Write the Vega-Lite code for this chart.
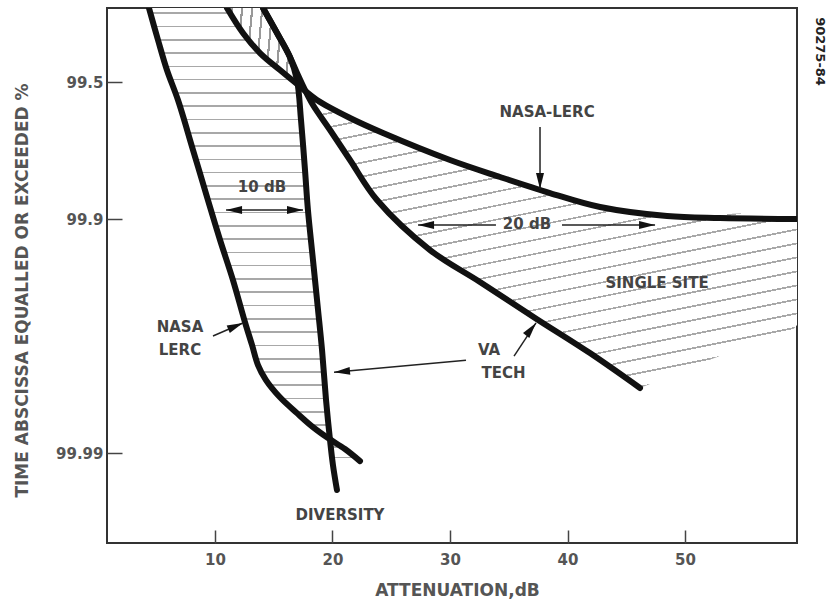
{
  "$schema": "https://vega.github.io/schema/vega-lite/v6.json",
  "width": 690,
  "height": 535,
  "autosize": {"type": "none"},
  "padding": {"left": 107, "top": 8, "right": 33, "bottom": 67},
  "background": "white",
  "config": {"view": {"stroke": "#333", "strokeWidth": 2}, "font": "DejaVu Sans"},
  "datasets": {
    "curves": [
      {"series": "NASA-LERC diversity", "dB": 4.38, "q": 1.3285},
      {"series": "NASA-LERC diversity", "dB": 5.15, "q": 0.8615},
      {"series": "NASA-LERC diversity", "dB": 5.91, "q": 0.5825},
      {"series": "NASA-LERC diversity", "dB": 6.85, "q": 0.3991},
      {"series": "NASA-LERC diversity", "dB": 8.13, "q": 0.2185},
      {"series": "NASA-LERC diversity", "dB": 9.40, "q": 0.1233},
      {"series": "NASA-LERC diversity", "dB": 10.43, "q": 0.0797},
      {"series": "NASA-LERC diversity", "dB": 11.53, "q": 0.0523},
      {"series": "NASA-LERC diversity", "dB": 12.55, "q": 0.0342},
      {"series": "NASA-LERC diversity", "dB": 13.15, "q": 0.0273},
      {"series": "NASA-LERC diversity", "dB": 13.66, "q": 0.0225},
      {"series": "NASA-LERC diversity", "dB": 14.34, "q": 0.0195},
      {"series": "NASA-LERC diversity", "dB": 15.53, "q": 0.0166},
      {"series": "NASA-LERC diversity", "dB": 16.98, "q": 0.01434},
      {"series": "NASA-LERC diversity", "dB": 18.34, "q": 0.01262},
      {"series": "NASA-LERC diversity", "dB": 19.62, "q": 0.01143},
      {"series": "NASA-LERC diversity", "dB": 21.06, "q": 0.01036},
      {"series": "NASA-LERC diversity", "dB": 22.34, "q": 0.00931},
      {"series": "VA TECH diversity", "dB": 14.09, "q": 1.3285},
      {"series": "VA TECH diversity", "dB": 15.28, "q": 0.9458},
      {"series": "VA TECH diversity", "dB": 16.38, "q": 0.689},
      {"series": "VA TECH diversity", "dB": 16.98, "q": 0.5128},
      {"series": "VA TECH diversity", "dB": 17.32, "q": 0.3124},
      {"series": "VA TECH diversity", "dB": 17.66, "q": 0.1732},
      {"series": "VA TECH diversity", "dB": 17.91, "q": 0.1104},
      {"series": "VA TECH diversity", "dB": 18.34, "q": 0.0644},
      {"series": "VA TECH diversity", "dB": 18.77, "q": 0.0386},
      {"series": "VA TECH diversity", "dB": 19.11, "q": 0.026},
      {"series": "VA TECH diversity", "dB": 19.45, "q": 0.0162},
      {"series": "VA TECH diversity", "dB": 19.79, "q": 0.01123},
      {"series": "VA TECH diversity", "dB": 20.04, "q": 0.00899},
      {"series": "VA TECH diversity", "dB": 20.38, "q": 0.00723},
      {"series": "VA TECH single site", "dB": 14.09, "q": 1.3285},
      {"series": "VA TECH single site", "dB": 15.28, "q": 0.9458},
      {"series": "VA TECH single site", "dB": 16.38, "q": 0.689},
      {"series": "VA TECH single site", "dB": 17.06, "q": 0.5464},
      {"series": "VA TECH single site", "dB": 17.66, "q": 0.4521},
      {"series": "VA TECH single site", "dB": 18.34, "q": 0.3753},
      {"series": "VA TECH single site", "dB": 19.79, "q": 0.277},
      {"series": "VA TECH single site", "dB": 21.49, "q": 0.1944},
      {"series": "VA TECH single site", "dB": 23.79, "q": 0.1233},
      {"series": "VA TECH single site", "dB": 28.30, "q": 0.0716},
      {"series": "VA TECH single site", "dB": 32.55, "q": 0.0513},
      {"series": "VA TECH single site", "dB": 37.40, "q": 0.0352},
      {"series": "VA TECH single site", "dB": 41.91, "q": 0.02524},
      {"series": "VA TECH single site", "dB": 46.17, "q": 0.0181},
      {"series": "NASA-LERC single site", "dB": 11.02, "q": 1.3285},
      {"series": "NASA-LERC single site", "dB": 12.38, "q": 0.9458},
      {"series": "NASA-LERC single site", "dB": 13.83, "q": 0.7259},
      {"series": "NASA-LERC single site", "dB": 15.53, "q": 0.5825},
      {"series": "NASA-LERC single site", "dB": 16.98, "q": 0.4875},
      {"series": "NASA-LERC single site", "dB": 18.68, "q": 0.3991},
      {"series": "NASA-LERC single site", "dB": 21.49, "q": 0.3201},
      {"series": "NASA-LERC single site", "dB": 24.30, "q": 0.2672},
      {"series": "NASA-LERC single site", "dB": 30.00, "q": 0.1944},
      {"series": "NASA-LERC single site", "dB": 34.26, "q": 0.1599},
      {"series": "NASA-LERC single site", "dB": 38.51, "q": 0.1334},
      {"series": "NASA-LERC single site", "dB": 42.77, "q": 0.1141},
      {"series": "NASA-LERC single site", "dB": 48.47, "q": 0.1033},
      {"series": "NASA-LERC single site", "dB": 52.98, "q": 0.1011},
      {"series": "NASA-LERC single site", "dB": 59.53, "q": 0.1}
    ],
    "regions": [
      {"region": "left", "q": 1.3285, "dB": 4.38, "dB2": 11.02},
      {"region": "left", "q": 0.9458, "dB": 4.98, "dB2": 12.38},
      {"region": "left", "q": 0.7259, "dB": 5.49, "dB2": 13.83},
      {"region": "left", "q": 0.5825, "dB": 5.91, "dB2": 15.53},
      {"region": "left", "q": 0.4814, "dB": 6.38, "dB2": 16.98},
      {"region": "left", "q": 0.3991, "dB": 6.85, "dB2": 17.15},
      {"region": "left", "q": 0.2185, "dB": 8.13, "dB2": 17.52},
      {"region": "left", "q": 0.1233, "dB": 9.40, "dB2": 17.85},
      {"region": "left", "q": 0.0797, "dB": 10.43, "dB2": 18.17},
      {"region": "left", "q": 0.0523, "dB": 11.53, "dB2": 18.51},
      {"region": "left", "q": 0.0342, "dB": 12.55, "dB2": 18.87},
      {"region": "left", "q": 0.0225, "dB": 13.66, "dB2": 19.21},
      {"region": "left", "q": 0.0166, "dB": 15.53, "dB2": 19.43},
      {"region": "left", "q": 0.01434, "dB": 16.98, "dB2": 19.56},
      {"region": "left", "q": 0.01262, "dB": 18.34, "dB2": 19.68},
      {"region": "left", "q": 0.01143, "dB": 19.62, "dB2": 19.77},
      {"region": "low", "q": 0.01123, "dB": 19.79, "dB2": 19.79},
      {"region": "low", "q": 0.01036, "dB": 19.94, "dB2": 21.06},
      {"region": "low", "q": 0.00931, "dB": 20.0, "dB2": 22.34},
      {"region": "top", "q": 1.3285, "dB": 11.02, "dB2": 14.09},
      {"region": "top", "q": 0.9458, "dB": 12.38, "dB2": 15.28},
      {"region": "top", "q": 0.689, "dB": 14.13, "dB2": 16.38},
      {"region": "top", "q": 0.5464, "dB": 15.96, "dB2": 17.06},
      {"region": "top", "q": 0.4754, "dB": 17.06, "dB2": 17.06},
      {"region": "right", "q": 0.4754, "dB": 17.06, "dB2": 17.06},
      {"region": "right", "q": 0.3991, "dB": 18.11, "dB2": 18.68},
      {"region": "right", "q": 0.3201, "dB": 19.09, "dB2": 21.49},
      {"region": "right", "q": 0.2672, "dB": 19.96, "dB2": 24.30},
      {"region": "right", "q": 0.1944, "dB": 21.49, "dB2": 30.00},
      {"region": "right", "q": 0.1599, "dB": 22.47, "dB2": 34.26},
      {"region": "right", "q": 0.1334, "dB": 23.39, "dB2": 38.51},
      {"region": "right", "q": 0.1141, "dB": 24.42, "dB2": 42.77},
      {"region": "right", "q": 0.1033, "dB": 25.24, "dB2": 48.47},
      {"region": "right", "q": 0.1, "dB": 25.49, "dB2": 59.53},
      {"region": "right", "q": 0.0716, "dB": 28.30, "dB2": 59.53},
      {"region": "right", "q": 0.0497, "dB": 32.94, "dB2": 59.53},
      {"region": "right", "q": 0.0332, "dB": 38.17, "dB2": 59.53},
      {"region": "right", "q": 0.0248, "dB": 42.17, "dB2": 53.15},
      {"region": "right", "q": 0.0181, "dB": 46.17, "dB2": 46.17}
    ],
    "arrows": [
      {"id": "10dB-left", "dB": 14.0, "q": 0.1104, "dB2": 10.94, "q2": 0.1104},
      {"id": "10dB-right", "dB": 14.0, "q": 0.1104, "dB2": 17.49, "q2": 0.1104},
      {"id": "20dB-left", "dB": 33.91, "q": 0.0937, "dB2": 27.28, "q2": 0.0937},
      {"id": "20dB-right", "dB": 39.53, "q": 0.0937, "dB2": 47.45, "q2": 0.0937},
      {"id": "NASA-LERC single", "dB": 37.66, "q": 0.2871, "dB2": 37.66, "q2": 0.1395},
      {"id": "NASA LERC diversity", "dB": 9.83, "q": 0.0298, "dB2": 12.38, "q2": 0.0339},
      {"id": "VA TECH single", "dB": 35.45, "q": 0.0245, "dB2": 37.32, "q2": 0.0339},
      {"id": "VA TECH diversity", "dB": 31.36, "q": 0.02358, "dB2": 20.13, "q2": 0.021}
    ],
    "labels": [
      {"label": "10 dB", "dB": 14.0, "q": 0.1427},
      {"label": "20 dB", "dB": 36.55, "q": 0.0947},
      {"label": "NASA-LERC", "dB": 38.26, "q": 0.3444},
      {"label": "SINGLE SITE", "dB": 47.62, "q": 0.0507},
      {"label": "NASA", "dB": 7.02, "q": 0.0325},
      {"label": "LERC", "dB": 7.02, "q": 0.026},
      {"label": "VA", "dB": 33.32, "q": 0.026},
      {"label": "TECH", "dB": 34.55, "q": 0.0208},
      {"label": "DIVERSITY", "dB": 20.64, "q": 0.00584}
    ],
    "figid": [{"label": "90275-84", "dB": 61.5, "q": 0.74}]
  },
  "encoding": {
    "x": {
      "field": "dB", "type": "quantitative",
      "scale": {"type": "linear", "domain": [0.81, 59.53], "nice": false, "zero": false},
      "axis": {
        "values": [10, 20, 30, 40, 50], "title": "ATTENUATION,dB", "grid": false, "domain": false,
        "tickSize": -13, "tickWidth": 1.5, "tickColor": "#444",
        "labelPadding": 22, "labelFontSize": 15, "labelFontWeight": "bold", "labelColor": "#555", "labelFont": "DejaVu Sans",
        "titleFont": "DejaVu Sans", "titleFontSize": 17, "titleFontWeight": "bold", "titleColor": "#555",
        "titleX": 350, "titleY": 47, "titleAlign": "center", "titleBaseline": "middle"
      }
    },
    "y": {
      "field": "q", "type": "quantitative",
      "scale": {"type": "pow", "exponent": -0.09, "domain": [0.00462, 1.3285], "nice": false, "zero": false},
      "axis": {
        "values": [0.5, 0.1, 0.01],
        "labelExpr": "datum.value == 0.5 ? '99.5' : (datum.value == 0.1 ? '99.9' : '99.99')",
        "title": "TIME ABSCISSA EQUALLED OR EXCEEDED %", "grid": false, "domain": false,
        "tickSize": -15, "tickWidth": 1.5, "tickColor": "#444",
        "labelPadding": 19, "labelFontSize": 15, "labelFontWeight": "bold", "labelColor": "#555", "labelFont": "DejaVu Sans",
        "titleFont": "DejaVu Sans", "titleFontSize": 17, "titleFontWeight": "bold", "titleColor": "#555",
        "titleX": -85, "titleY": 282, "titleAngle": -90, "titleAlign": "center", "titleBaseline": "middle"
      }
    }
  },
  "layer": [
    {
      "data": {"name": "regions"},
      "transform": [{"filter": {"field": "region", "equal": "left"}}],
      "mark": {"type": "area", "orient": "horizontal", "clip": true, "interpolate": "catmull-rom", "opacity": 1,
        "fill": {"gradient": "linear", "x1": 0, "y1": 0, "x2": 0, "y2": 1, "stops": [
          {"offset": 0, "color": "#fff"},
          {"offset": 0.0101, "color": "#fff"}, {"offset": 0.0101, "color": "#a8a8a8"}, {"offset": 0.0139, "color": "#a8a8a8"}, {"offset": 0.0139, "color": "#fff"},
          {"offset": 0.0410, "color": "#fff"}, {"offset": 0.0410, "color": "#a8a8a8"}, {"offset": 0.0448, "color": "#a8a8a8"}, {"offset": 0.0448, "color": "#fff"},
          {"offset": 0.0719, "color": "#fff"}, {"offset": 0.0719, "color": "#a8a8a8"}, {"offset": 0.0757, "color": "#a8a8a8"}, {"offset": 0.0757, "color": "#fff"},
          {"offset": 0.1028, "color": "#fff"}, {"offset": 0.1028, "color": "#a8a8a8"}, {"offset": 0.1066, "color": "#a8a8a8"}, {"offset": 0.1066, "color": "#fff"},
          {"offset": 0.1337, "color": "#fff"}, {"offset": 0.1337, "color": "#a8a8a8"}, {"offset": 0.1375, "color": "#a8a8a8"}, {"offset": 0.1375, "color": "#fff"},
          {"offset": 0.1646, "color": "#fff"}, {"offset": 0.1646, "color": "#a8a8a8"}, {"offset": 0.1684, "color": "#a8a8a8"}, {"offset": 0.1684, "color": "#fff"},
          {"offset": 0.1955, "color": "#fff"}, {"offset": 0.1955, "color": "#a8a8a8"}, {"offset": 0.1993, "color": "#a8a8a8"}, {"offset": 0.1993, "color": "#fff"},
          {"offset": 0.2264, "color": "#fff"}, {"offset": 0.2264, "color": "#a8a8a8"}, {"offset": 0.2302, "color": "#a8a8a8"}, {"offset": 0.2302, "color": "#fff"},
          {"offset": 0.2573, "color": "#fff"}, {"offset": 0.2573, "color": "#a8a8a8"}, {"offset": 0.2611, "color": "#a8a8a8"}, {"offset": 0.2611, "color": "#fff"},
          {"offset": 0.2882, "color": "#fff"}, {"offset": 0.2882, "color": "#a8a8a8"}, {"offset": 0.2920, "color": "#a8a8a8"}, {"offset": 0.2920, "color": "#fff"},
          {"offset": 0.3191, "color": "#fff"}, {"offset": 0.3191, "color": "#a8a8a8"}, {"offset": 0.3229, "color": "#a8a8a8"}, {"offset": 0.3229, "color": "#fff"},
          {"offset": 0.3500, "color": "#fff"}, {"offset": 0.3500, "color": "#a8a8a8"}, {"offset": 0.3538, "color": "#a8a8a8"}, {"offset": 0.3538, "color": "#fff"},
          {"offset": 0.3809, "color": "#fff"}, {"offset": 0.3809, "color": "#a8a8a8"}, {"offset": 0.3847, "color": "#a8a8a8"}, {"offset": 0.3847, "color": "#fff"},
          {"offset": 0.4118, "color": "#fff"}, {"offset": 0.4118, "color": "#a8a8a8"}, {"offset": 0.4156, "color": "#a8a8a8"}, {"offset": 0.4156, "color": "#fff"},
          {"offset": 0.4427, "color": "#fff"}, {"offset": 0.4427, "color": "#a8a8a8"}, {"offset": 0.4465, "color": "#a8a8a8"}, {"offset": 0.4465, "color": "#fff"},
          {"offset": 0.4736, "color": "#fff"}, {"offset": 0.4736, "color": "#a8a8a8"}, {"offset": 0.4774, "color": "#a8a8a8"}, {"offset": 0.4774, "color": "#fff"},
          {"offset": 0.5045, "color": "#fff"}, {"offset": 0.5045, "color": "#a8a8a8"}, {"offset": 0.5083, "color": "#a8a8a8"}, {"offset": 0.5083, "color": "#fff"},
          {"offset": 0.5354, "color": "#fff"}, {"offset": 0.5354, "color": "#a8a8a8"}, {"offset": 0.5392, "color": "#a8a8a8"}, {"offset": 0.5392, "color": "#fff"},
          {"offset": 0.5663, "color": "#fff"}, {"offset": 0.5663, "color": "#a8a8a8"}, {"offset": 0.5701, "color": "#a8a8a8"}, {"offset": 0.5701, "color": "#fff"},
          {"offset": 0.5972, "color": "#fff"}, {"offset": 0.5972, "color": "#a8a8a8"}, {"offset": 0.6010, "color": "#a8a8a8"}, {"offset": 0.6010, "color": "#fff"},
          {"offset": 0.6281, "color": "#fff"}, {"offset": 0.6281, "color": "#a8a8a8"}, {"offset": 0.6319, "color": "#a8a8a8"}, {"offset": 0.6319, "color": "#fff"},
          {"offset": 0.6590, "color": "#fff"}, {"offset": 0.6590, "color": "#a8a8a8"}, {"offset": 0.6628, "color": "#a8a8a8"}, {"offset": 0.6628, "color": "#fff"},
          {"offset": 0.6899, "color": "#fff"}, {"offset": 0.6899, "color": "#a8a8a8"}, {"offset": 0.6937, "color": "#a8a8a8"}, {"offset": 0.6937, "color": "#fff"},
          {"offset": 0.7208, "color": "#fff"}, {"offset": 0.7208, "color": "#a8a8a8"}, {"offset": 0.7246, "color": "#a8a8a8"}, {"offset": 0.7246, "color": "#fff"},
          {"offset": 0.7517, "color": "#fff"}, {"offset": 0.7517, "color": "#a8a8a8"}, {"offset": 0.7555, "color": "#a8a8a8"}, {"offset": 0.7555, "color": "#fff"},
          {"offset": 0.7826, "color": "#fff"}, {"offset": 0.7826, "color": "#a8a8a8"}, {"offset": 0.7864, "color": "#a8a8a8"}, {"offset": 0.7864, "color": "#fff"},
          {"offset": 0.8135, "color": "#fff"}, {"offset": 0.8135, "color": "#a8a8a8"}, {"offset": 0.8173, "color": "#a8a8a8"}, {"offset": 0.8173, "color": "#fff"},
          {"offset": 0.8444, "color": "#fff"}, {"offset": 0.8444, "color": "#a8a8a8"}, {"offset": 0.8482, "color": "#a8a8a8"}, {"offset": 0.8482, "color": "#fff"},
          {"offset": 0.8753, "color": "#fff"}, {"offset": 0.8753, "color": "#a8a8a8"}, {"offset": 0.8791, "color": "#a8a8a8"}, {"offset": 0.8791, "color": "#fff"},
          {"offset": 0.9062, "color": "#fff"}, {"offset": 0.9062, "color": "#a8a8a8"}, {"offset": 0.9100, "color": "#a8a8a8"}, {"offset": 0.9100, "color": "#fff"},
          {"offset": 0.9371, "color": "#fff"}, {"offset": 0.9371, "color": "#a8a8a8"}, {"offset": 0.9409, "color": "#a8a8a8"}, {"offset": 0.9409, "color": "#fff"},
          {"offset": 0.9680, "color": "#fff"}, {"offset": 0.9680, "color": "#a8a8a8"}, {"offset": 0.9718, "color": "#a8a8a8"}, {"offset": 0.9718, "color": "#fff"},
          {"offset": 1, "color": "#fff"}
        ]}},
      "encoding": {"x2": {"field": "dB2"}, "order": {"value": null}}
    },
    {
      "data": {"name": "regions"},
      "transform": [{"filter": {"field": "region", "equal": "right"}}],
      "mark": {"type": "area", "orient": "horizontal", "clip": true, "interpolate": "catmull-rom", "opacity": 1,
        "fill": {"gradient": "linear", "x1": 0, "y1": 0, "x2": 0.45, "y2": 1.35, "stops": [
          {"offset": 0, "color": "#fff"},
          {"offset": 0.0101, "color": "#fff"}, {"offset": 0.0101, "color": "#a8a8a8"}, {"offset": 0.0139, "color": "#a8a8a8"}, {"offset": 0.0139, "color": "#fff"},
          {"offset": 0.0410, "color": "#fff"}, {"offset": 0.0410, "color": "#a8a8a8"}, {"offset": 0.0448, "color": "#a8a8a8"}, {"offset": 0.0448, "color": "#fff"},
          {"offset": 0.0719, "color": "#fff"}, {"offset": 0.0719, "color": "#a8a8a8"}, {"offset": 0.0757, "color": "#a8a8a8"}, {"offset": 0.0757, "color": "#fff"},
          {"offset": 0.1028, "color": "#fff"}, {"offset": 0.1028, "color": "#a8a8a8"}, {"offset": 0.1066, "color": "#a8a8a8"}, {"offset": 0.1066, "color": "#fff"},
          {"offset": 0.1337, "color": "#fff"}, {"offset": 0.1337, "color": "#a8a8a8"}, {"offset": 0.1375, "color": "#a8a8a8"}, {"offset": 0.1375, "color": "#fff"},
          {"offset": 0.1646, "color": "#fff"}, {"offset": 0.1646, "color": "#a8a8a8"}, {"offset": 0.1684, "color": "#a8a8a8"}, {"offset": 0.1684, "color": "#fff"},
          {"offset": 0.1955, "color": "#fff"}, {"offset": 0.1955, "color": "#a8a8a8"}, {"offset": 0.1993, "color": "#a8a8a8"}, {"offset": 0.1993, "color": "#fff"},
          {"offset": 0.2264, "color": "#fff"}, {"offset": 0.2264, "color": "#a8a8a8"}, {"offset": 0.2302, "color": "#a8a8a8"}, {"offset": 0.2302, "color": "#fff"},
          {"offset": 0.2573, "color": "#fff"}, {"offset": 0.2573, "color": "#a8a8a8"}, {"offset": 0.2611, "color": "#a8a8a8"}, {"offset": 0.2611, "color": "#fff"},
          {"offset": 0.2882, "color": "#fff"}, {"offset": 0.2882, "color": "#a8a8a8"}, {"offset": 0.2920, "color": "#a8a8a8"}, {"offset": 0.2920, "color": "#fff"},
          {"offset": 0.3191, "color": "#fff"}, {"offset": 0.3191, "color": "#a8a8a8"}, {"offset": 0.3229, "color": "#a8a8a8"}, {"offset": 0.3229, "color": "#fff"},
          {"offset": 0.3500, "color": "#fff"}, {"offset": 0.3500, "color": "#a8a8a8"}, {"offset": 0.3538, "color": "#a8a8a8"}, {"offset": 0.3538, "color": "#fff"},
          {"offset": 0.3809, "color": "#fff"}, {"offset": 0.3809, "color": "#a8a8a8"}, {"offset": 0.3847, "color": "#a8a8a8"}, {"offset": 0.3847, "color": "#fff"},
          {"offset": 0.4118, "color": "#fff"}, {"offset": 0.4118, "color": "#a8a8a8"}, {"offset": 0.4156, "color": "#a8a8a8"}, {"offset": 0.4156, "color": "#fff"},
          {"offset": 0.4427, "color": "#fff"}, {"offset": 0.4427, "color": "#a8a8a8"}, {"offset": 0.4465, "color": "#a8a8a8"}, {"offset": 0.4465, "color": "#fff"},
          {"offset": 0.4736, "color": "#fff"}, {"offset": 0.4736, "color": "#a8a8a8"}, {"offset": 0.4774, "color": "#a8a8a8"}, {"offset": 0.4774, "color": "#fff"},
          {"offset": 0.5045, "color": "#fff"}, {"offset": 0.5045, "color": "#a8a8a8"}, {"offset": 0.5083, "color": "#a8a8a8"}, {"offset": 0.5083, "color": "#fff"},
          {"offset": 0.5354, "color": "#fff"}, {"offset": 0.5354, "color": "#a8a8a8"}, {"offset": 0.5392, "color": "#a8a8a8"}, {"offset": 0.5392, "color": "#fff"},
          {"offset": 0.5663, "color": "#fff"}, {"offset": 0.5663, "color": "#a8a8a8"}, {"offset": 0.5701, "color": "#a8a8a8"}, {"offset": 0.5701, "color": "#fff"},
          {"offset": 0.5972, "color": "#fff"}, {"offset": 0.5972, "color": "#a8a8a8"}, {"offset": 0.6010, "color": "#a8a8a8"}, {"offset": 0.6010, "color": "#fff"},
          {"offset": 0.6281, "color": "#fff"}, {"offset": 0.6281, "color": "#a8a8a8"}, {"offset": 0.6319, "color": "#a8a8a8"}, {"offset": 0.6319, "color": "#fff"},
          {"offset": 0.6590, "color": "#fff"}, {"offset": 0.6590, "color": "#a8a8a8"}, {"offset": 0.6628, "color": "#a8a8a8"}, {"offset": 0.6628, "color": "#fff"},
          {"offset": 0.6899, "color": "#fff"}, {"offset": 0.6899, "color": "#a8a8a8"}, {"offset": 0.6937, "color": "#a8a8a8"}, {"offset": 0.6937, "color": "#fff"},
          {"offset": 0.7208, "color": "#fff"}, {"offset": 0.7208, "color": "#a8a8a8"}, {"offset": 0.7246, "color": "#a8a8a8"}, {"offset": 0.7246, "color": "#fff"},
          {"offset": 0.7517, "color": "#fff"}, {"offset": 0.7517, "color": "#a8a8a8"}, {"offset": 0.7555, "color": "#a8a8a8"}, {"offset": 0.7555, "color": "#fff"},
          {"offset": 0.7826, "color": "#fff"}, {"offset": 0.7826, "color": "#a8a8a8"}, {"offset": 0.7864, "color": "#a8a8a8"}, {"offset": 0.7864, "color": "#fff"},
          {"offset": 0.8135, "color": "#fff"}, {"offset": 0.8135, "color": "#a8a8a8"}, {"offset": 0.8173, "color": "#a8a8a8"}, {"offset": 0.8173, "color": "#fff"},
          {"offset": 0.8444, "color": "#fff"}, {"offset": 0.8444, "color": "#a8a8a8"}, {"offset": 0.8482, "color": "#a8a8a8"}, {"offset": 0.8482, "color": "#fff"},
          {"offset": 0.8753, "color": "#fff"}, {"offset": 0.8753, "color": "#a8a8a8"}, {"offset": 0.8791, "color": "#a8a8a8"}, {"offset": 0.8791, "color": "#fff"},
          {"offset": 0.9062, "color": "#fff"}, {"offset": 0.9062, "color": "#a8a8a8"}, {"offset": 0.9100, "color": "#a8a8a8"}, {"offset": 0.9100, "color": "#fff"},
          {"offset": 0.9371, "color": "#fff"}, {"offset": 0.9371, "color": "#a8a8a8"}, {"offset": 0.9409, "color": "#a8a8a8"}, {"offset": 0.9409, "color": "#fff"},
          {"offset": 0.9680, "color": "#fff"}, {"offset": 0.9680, "color": "#a8a8a8"}, {"offset": 0.9718, "color": "#a8a8a8"}, {"offset": 0.9718, "color": "#fff"},
          {"offset": 1, "color": "#fff"}
        ]}},
      "encoding": {"x2": {"field": "dB2"}, "order": {"value": null}}
    },
    {
      "data": {"name": "regions"},
      "transform": [{"filter": {"field": "region", "equal": "top"}}],
      "mark": {"type": "area", "orient": "horizontal", "clip": true, "interpolate": "catmull-rom", "opacity": 1,
        "fill": {"gradient": "linear", "x1": 0, "y1": 0, "x2": 1, "y2": 0.1, "stops": [
          {"offset": 0, "color": "#fff"},
          {"offset": 0.055, "color": "#fff"}, {"offset": 0.055, "color": "#999"}, {"offset": 0.085, "color": "#999"}, {"offset": 0.085, "color": "#fff"},
          {"offset": 0.195, "color": "#fff"}, {"offset": 0.195, "color": "#999"}, {"offset": 0.225, "color": "#999"}, {"offset": 0.225, "color": "#fff"},
          {"offset": 0.335, "color": "#fff"}, {"offset": 0.335, "color": "#999"}, {"offset": 0.365, "color": "#999"}, {"offset": 0.365, "color": "#fff"},
          {"offset": 0.475, "color": "#fff"}, {"offset": 0.475, "color": "#999"}, {"offset": 0.505, "color": "#999"}, {"offset": 0.505, "color": "#fff"},
          {"offset": 0.615, "color": "#fff"}, {"offset": 0.615, "color": "#999"}, {"offset": 0.645, "color": "#999"}, {"offset": 0.645, "color": "#fff"},
          {"offset": 0.755, "color": "#fff"}, {"offset": 0.755, "color": "#999"}, {"offset": 0.785, "color": "#999"}, {"offset": 0.785, "color": "#fff"},
          {"offset": 0.895, "color": "#fff"}, {"offset": 0.895, "color": "#999"}, {"offset": 0.925, "color": "#999"}, {"offset": 0.925, "color": "#fff"},
          {"offset": 1, "color": "#fff"}
        ]}},
      "encoding": {"x2": {"field": "dB2"}, "order": {"value": null}}
    },
    {
      "data": {"name": "regions"},
      "transform": [{"filter": {"field": "region", "equal": "low"}}],
      "mark": {"type": "area", "orient": "horizontal", "clip": true, "opacity": 1,
        "fill": {"gradient": "linear", "x1": 0, "y1": 0, "x2": 0, "y2": 1, "stops": [
          {"offset": 0, "color": "#fff"},
          {"offset": 0.30, "color": "#fff"}, {"offset": 0.30, "color": "#a8a8a8"}, {"offset": 0.37, "color": "#a8a8a8"}, {"offset": 0.37, "color": "#fff"},
          {"offset": 0.80, "color": "#fff"}, {"offset": 0.80, "color": "#a8a8a8"}, {"offset": 0.87, "color": "#a8a8a8"}, {"offset": 0.87, "color": "#fff"},
          {"offset": 1, "color": "#fff"}
        ]}},
      "encoding": {"x2": {"field": "dB2"}, "order": {"value": null}}
    },
    {
      "data": {"name": "curves"},
      "mark": {"type": "line", "strokeWidth": 6, "color": "#111", "strokeCap": "round", "strokeJoin": "round", "clip": true, "interpolate": "catmull-rom"},
      "encoding": {"detail": {"field": "series", "type": "nominal"}, "order": {"value": null}}
    },
    {
      "data": {"name": "arrows"},
      "mark": {"type": "rule", "strokeWidth": 1.5, "color": "#222"},
      "encoding": {"x2": {"field": "dB2"}, "y2": {"field": "q2"}}
    },
    {
      "data": {"name": "arrows"},
      "transform": [{"filter": {"field": "id", "oneOf": ["10dB-right", "20dB-right"]}}],
      "mark": {"type": "point", "shape": "M0,0L-4,-1L-4,1Z", "size": 64, "filled": true, "color": "#111", "opacity": 1, "angle": 0},
      "encoding": {"x": {"field": "dB2", "type": "quantitative"}, "y": {"field": "q2", "type": "quantitative"}}
    },
    {
      "data": {"name": "arrows"},
      "transform": [{"filter": {"field": "id", "oneOf": ["10dB-left", "20dB-left"]}}],
      "mark": {"type": "point", "shape": "M0,0L-4,-1L-4,1Z", "size": 64, "filled": true, "color": "#111", "opacity": 1, "angle": 180},
      "encoding": {"x": {"field": "dB2", "type": "quantitative"}, "y": {"field": "q2", "type": "quantitative"}}
    },
    {
      "data": {"name": "arrows"},
      "transform": [{"filter": {"field": "id", "equal": "VA TECH diversity"}}],
      "mark": {"type": "point", "shape": "M0,0L-4,-1L-4,1Z", "size": 64, "filled": true, "color": "#111", "opacity": 1, "angle": 175},
      "encoding": {"x": {"field": "dB2", "type": "quantitative"}, "y": {"field": "q2", "type": "quantitative"}}
    },
    {
      "data": {"name": "arrows"},
      "transform": [{"filter": {"field": "id", "equal": "NASA-LERC single"}}],
      "mark": {"type": "point", "shape": "M0,0L-4,-1L-4,1Z", "size": 64, "filled": true, "color": "#111", "opacity": 1, "angle": 90},
      "encoding": {"x": {"field": "dB2", "type": "quantitative"}, "y": {"field": "q2", "type": "quantitative"}}
    },
    {
      "data": {"name": "arrows"},
      "transform": [{"filter": {"field": "id", "equal": "NASA LERC diversity"}}],
      "mark": {"type": "point", "shape": "M0,0L-4,-1L-4,1Z", "size": 64, "filled": true, "color": "#111", "opacity": 1, "angle": -23},
      "encoding": {"x": {"field": "dB2", "type": "quantitative"}, "y": {"field": "q2", "type": "quantitative"}}
    },
    {
      "data": {"name": "arrows"},
      "transform": [{"filter": {"field": "id", "equal": "VA TECH single"}}],
      "mark": {"type": "point", "shape": "M0,0L-4,-1L-4,1Z", "size": 64, "filled": true, "color": "#111", "opacity": 1, "angle": -52},
      "encoding": {"x": {"field": "dB2", "type": "quantitative"}, "y": {"field": "q2", "type": "quantitative"}}
    },
    {
      "data": {"name": "labels"},
      "mark": {"type": "text", "font": "DejaVu Sans", "fontWeight": "bold", "fontSize": 15, "color": "#444", "align": "center", "baseline": "middle"},
      "encoding": {"text": {"field": "label"}}
    },
    {
      "data": {"name": "figid"},
      "mark": {"type": "text", "font": "DejaVu Sans", "fontWeight": "bold", "fontSize": 13, "color": "#222", "align": "center", "baseline": "middle", "angle": 90},
      "encoding": {"text": {"field": "label"}}
    }
  ]
}
